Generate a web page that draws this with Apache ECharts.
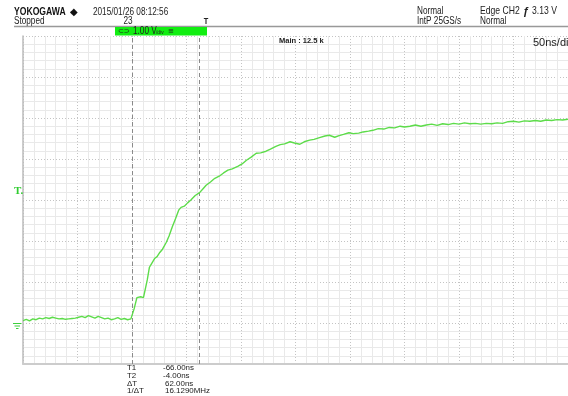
<!DOCTYPE html>
<html>
<head>
<meta charset="utf-8">
<script src="https://cdn.jsdelivr.net/npm/echarts@6/dist/echarts.min.js"></script>
<style>
  html, body { margin: 0; padding: 0; background: #fff; }
  #chart { width: 568px; height: 396px; }
</style>
</head>
<body>
<div id="chart"></div>
<script>
// time from left edge of screen (ns), 50 ns/div, 10 div
const timeNs = [
  0, 3, 6, 9, 12, 15, 18, 21, 24, 27, 30, 33, 36, 39, 42, 45, 48, 51, 54, 57,
  60, 63, 66, 69, 72, 75, 78, 81, 84, 87, 90, 93, 96, 99, 100.5,
  102, 104.5, 106, 108, 110.5, 112, 114, 116, 118, 121, 123, 125.5, 128, 131.5, 134,
  137, 140, 143, 145, 148, 151, 154, 158, 162, 165, 168, 172, 176, 180, 184,
  188, 192, 197, 201, 205, 209, 214, 218, 223, 227, 232, 236, 240, 245, 249,
  254, 258, 263, 267, 272, 277, 281, 286, 290, 294, 299, 303, 308, 312, 317,
  321, 326, 331, 336, 341, 346, 350, 355, 360, 365, 370, 375, 380, 385, 390,
  395, 400, 405, 410, 415, 420, 425, 430, 435, 440, 445, 450, 455, 460, 465,
  470, 475, 480, 485, 490, 495, 500
]
// CH1 voltage (V), 1.00 V/div
const volts = [
  0.06, 0.09, 0.05, 0.10, 0.08, 0.12, 0.10, 0.13, 0.11, 0.14, 0.12, 0.10, 0.11, 0.09, 0.10, 0.11, 0.12, 0.14, 0.16, 0.13,
  0.18, 0.15, 0.12, 0.16, 0.13, 0.10, 0.12, 0.08, 0.10, 0.13, 0.09, 0.11, 0.08, 0.10, 0.07,
  0.35, 0.62, 0.66, 0.64, 0.62, 0.80, 1.05, 1.36, 1.45, 1.58, 1.62, 1.72, 1.80, 1.97, 2.12,
  2.35, 2.55, 2.76, 2.82, 2.85, 2.93, 3.00, 3.11, 3.18, 3.27, 3.36, 3.44, 3.53, 3.58, 3.66,
  3.73, 3.76, 3.82, 3.88, 3.97, 4.04, 4.14, 4.15, 4.19, 4.24, 4.31, 4.35, 4.37, 4.42, 4.39,
  4.36, 4.42, 4.46, 4.48, 4.52, 4.56, 4.58, 4.53, 4.57, 4.60, 4.64, 4.62, 4.63, 4.66, 4.68,
  4.70, 4.74, 4.73, 4.77, 4.76, 4.80, 4.78, 4.80, 4.83, 4.80, 4.83, 4.85, 4.82, 4.86, 4.84,
  4.87, 4.85, 4.88, 4.86, 4.87, 4.85, 4.87, 4.86, 4.88, 4.87, 4.91, 4.92, 4.90, 4.93, 4.92,
  4.94, 4.92, 4.95, 4.94, 4.96, 4.95, 4.97
]
const cursorNs = [100, 162]
const cursorLabels = ['T1', 'T2', 'ΔT', '1/ΔT']
const cursorValues = ['-66.00ns', '-4.00ns', '62.00ns', '16.1290MHz']

const sans = "'Liberation Sans',Arial,sans-serif"
const green = '#5ddc4a'

// scope font is narrow, so squeeze Liberation Sans horizontally
const txt = (text, x, y, size, opts = {}) => ({
  type: 'text',
  x, y,
  z: 100,
  scaleX: opts.scaleX || 0.82,
  silent: true,
  style: {
    text,
    fontSize: size,
    fontFamily: opts.family || sans,
    fontWeight: opts.weight || 'normal',
    fill: opts.fill || '#222',
    verticalAlign: 'middle',
    align: opts.align || 'left',
  },
})

const graphics = [
  // header
  txt('YOKOGAWA', 14, 12.5, 10.5, { weight: 'bold', fill: '#111' }),
  txt('◆', 70, 12, 10, { fill: '#111', family: 'DejaVu Sans', scaleX: 1 }),
  txt('2015/01/26 08:12:56', 93, 12, 10),
  txt('Stopped', 14, 21.5, 10),
  txt('23', 128, 21, 10, { align: 'center' }),
  txt('T', 206, 21.5, 9, { align: 'center', weight: 'bold' }),
  txt('Normal', 417, 11.5, 10),
  txt('IntP 25GS/s', 417, 21, 10),
  txt('Edge CH2', 480, 11.5, 10.5),
  txt('ƒ', 526, 11.5, 11, { weight: 'bold', align: 'center', scaleX: 1 }),
  txt('3.13 V', 532, 11.5, 10.5),
  txt('Normal', 480, 21, 10),
  {
    type: 'line', silent: true,
    shape: { x1: 14, y1: 26.5, x2: 568, y2: 26.5 },
    style: { stroke: '#999', lineWidth: 1.5 },
  },
  {
    type: 'rect', silent: true,
    shape: { x: 115, y: 27, width: 92, height: 8.5 },
    style: { fill: '#11ee11' },
  },
  txt('⊂⊃', 118, 31.5, 7, { family: 'DejaVu Sans', scaleX: 1 }),
  txt('1.00 V', 133, 31.5, 10),
  txt('/div', 156, 32, 6),
  txt('≡', 168, 31, 7, { family: 'DejaVu Sans', scaleX: 1 }),
  txt('Main : 12.5 k', 279, 41, 7.5, { weight: 'bold', scaleX: 1 }),
  txt('50ns/div', 533, 43, 11, { scaleX: 1 }),
  // trigger level + ground markers
  txt('T.', 14, 191.5, 11, { weight: 'bold', family: "'Liberation Serif',serif", fill: '#2fcc2f', scaleX: 1 }),
  { type: 'line', silent: true, shape: { x1: 13, y1: 323.5, x2: 21.5, y2: 323.5 }, style: { stroke: '#3ccf3c', lineWidth: 1 } },
  { type: 'line', silent: true, shape: { x1: 14.5, y1: 326, x2: 20, y2: 326 }, style: { stroke: '#3ccf3c', lineWidth: 1 } },
  { type: 'line', silent: true, shape: { x1: 16, y1: 328.5, x2: 18.5, y2: 328.5 }, style: { stroke: '#3ccf3c', lineWidth: 1 } },
]
// cursor readout
cursorLabels.forEach((l, i) => {
  graphics.push(txt(l, 127, 368 + i * 7.7, 7.8, { scaleX: 1.02 }))
  graphics.push(txt(cursorValues[i], i < 2 ? 163 : 165, 368 + i * 7.7, 7.8, { scaleX: 1.02 }))
})

const chart = echarts.init(document.getElementById('chart'))
chart.setOption({
  animation: false,
  backgroundColor: '#fff',
  grid: { left: 23, top: 36, width: 560, height: 328 },
  xAxis: {
    type: 'value',
    min: 0, max: 500, interval: 50,
    axisLabel: { show: false },
    axisTick: { show: false },
    axisLine: { show: true, onZero: false, lineStyle: { color: '#cccccc', width: 2 } },
    splitLine: { show: true, lineStyle: { color: '#c4c4c4', type: [1, 2], width: 1 } },
    minorTick: { show: true, splitNumber: 5, length: 0 },
    minorSplitLine: { show: true, lineStyle: { color: '#e9e9e9', width: 1 } },
  },
  yAxis: {
    type: 'value',
    min: -1, max: 7, interval: 1,
    axisLabel: { show: false },
    axisTick: { show: false },
    axisLine: { show: true, onZero: false, lineStyle: { color: '#bbbbbb', width: 1.5 } },
    splitLine: { show: true, lineStyle: { color: '#c4c4c4', type: [1, 2], width: 1 } },
    minorTick: { show: true, splitNumber: 5, length: 0 },
    minorSplitLine: { show: true, lineStyle: { color: '#e9e9e9', width: 1 } },
  },
  series: [
    {
      type: 'line',
      data: timeNs.map((t, i) => [t, volts[i]]),
      showSymbol: false,
      lineStyle: { color: green, width: 1.4 },
      z: 5,
      markLine: {
        silent: true,
        symbol: ['none', 'none'],
        label: { show: false },
        lineStyle: { color: '#8a8a8a', type: [4, 3], width: 1 },
        data: cursorNs.map((v) => ({ xAxis: v })),
      },
    },
  ],
  graphic: graphics,
})
</script>
</body>
</html>
